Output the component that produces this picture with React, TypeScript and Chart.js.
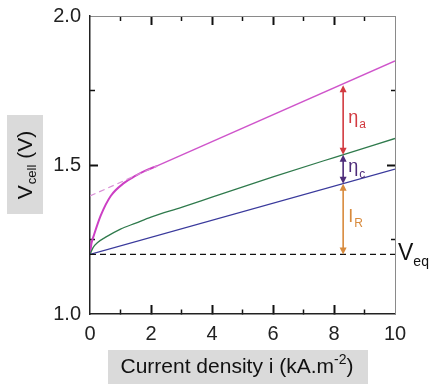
import { useEffect, useRef } from 'react';
import { Chart, registerables } from 'chart.js';

Chart.register(...registerables);

// ---- data ----
const xTickLabels = [0, 2, 4, 6, 8, 10];
const xMajorTicks = [2, 4, 6, 8];
const xMinorTicks = [1, 3, 5, 7, 9];
const yTickLabels = [1.0, 1.5, 2.0];
const yMajorTicks = [1.5];
const yMinorTicks = [1.25, 1.75];

const eqI = [0, 10];
const eqV = [1.2, 1.2];

const ohmicI = [0, 10];
const ohmicV = [1.2, 1.486];

const cathodeI = [0, 0.1, 0.25, 0.5, 1, 1.5, 2, 3, 4, 6, 8, 10];
const cathodeV = [1.2, 1.223, 1.24, 1.257, 1.285, 1.305, 1.325, 1.358, 1.392, 1.46, 1.525, 1.589];

const anodeCurveI = [0, 0.05, 0.13, 0.35, 0.68, 1.12, 1.5, 1.8, 2.2];
const anodeCurveV = [1.2, 1.238, 1.265, 1.33, 1.396, 1.44, 1.464, 1.48, 1.497];

const anodeLinI = [2.2, 10];
const anodeLinV = [1.497, 1.849];

const extrapI = [0, 2.2];
const extrapV = [1.396, 1.497];

const arrowI = 8.3;
const arrowFrom = [1.534, 1.437, 1.2];
const arrowTo = [1.768, 1.534, 1.437];
const arrowMain = ['η', 'η', 'I'];
const arrowSub = ['a', 'c', 'R'];

const eqLabelMain = 'V';
const eqLabelSub = 'eq';
const eqLabelV = 1.2;

const yTitleMain = 'V';
const yTitleSub = 'cell';
const yTitleRest = ' (V)';
const xTitleMain = 'Current density i (kA.m';
const xTitleSup = '-2';
const xTitleEnd = ')';

// ---- styles ----
const arrowColors = ['#d23a40', '#4e2c7a', '#d88a3c'];
const FONT = '"Liberation Sans", Arial, sans-serif';

const zip = (xs: number[], ys: number[]) => xs.map((x, i) => ({ x, y: ys[i] }));
const near = (a: number, b: number) => Math.abs(a - b) < 1e-6;
const tickVal = (c: any) => (c && c.tick ? Number(c.tick.value) : NaN);
const isIn = (arr: number[], v: number) => arr.some((t) => near(t, v));

// native inward tick marks (negative tick length); minor ticks shortened with a dash
function gridFor(kind: 'x' | 'y', startsAtBorder: boolean, major: number[], minor: number[], len: number, minorLen: number) {
  return {
    display: true,
    drawOnChartArea: false,
    drawTicks: true,
    tickLength: -len,
    tickColor: (c: any) => {
      const v = tickVal(c);
      return isIn(major, v) || isIn(minor, v) ? '#111111' : 'rgba(0,0,0,0)';
    },
    tickWidth: (c: any) => (isIn(major, tickVal(c)) ? 2 : 1.5),
    tickBorderDash: (c: any) => {
      if (!isIn(minor, tickVal(c))) return [];
      return startsAtBorder ? [minorLen, 100] : [minorLen, len - minorLen];
    },
    tickBorderDashOffset: (c: any) => {
      if (!isIn(minor, tickVal(c))) return 0;
      return startsAtBorder ? 0 : minorLen;
    },
  };
}

function drawArrowHead(ctx: CanvasRenderingContext2D, x: number, y: number, dir: number, color: string) {
  const len = 7;
  const hw = 3.5;
  ctx.beginPath();
  ctx.moveTo(x, y);
  ctx.lineTo(x - hw, y - dir * len);
  ctx.lineTo(x + hw, y - dir * len);
  ctx.closePath();
  ctx.fillStyle = color;
  ctx.fill();
}

const boxesPlugin = {
  id: 'titleBoxes',
  beforeDraw(chart: any) {
    const ctx: CanvasRenderingContext2D = chart.ctx;
    ctx.save();
    ctx.fillStyle = '#dadada';
    ctx.fillRect(7, 115, 36, 99);
    ctx.fillRect(108, 350, 260, 34);
    ctx.restore();
  },
};

const annotPlugin = {
  id: 'annotations',
  afterDraw(chart: any) {
    const ctx: CanvasRenderingContext2D = chart.ctx;
    const xs = chart.scales.x;
    const ys = chart.scales.y;
    ctx.save();

    // arrows
    const ax = xs.getPixelForValue(arrowI);
    arrowFrom.forEach((from, k) => {
      const color = arrowColors[k];
      const y1 = ys.getPixelForValue(from);
      const y2 = ys.getPixelForValue(arrowTo[k]);
      ctx.strokeStyle = color;
      ctx.lineWidth = 1.6;
      ctx.beginPath();
      ctx.moveTo(ax, y1 - 5);
      ctx.lineTo(ax, y2 + 5);
      ctx.stroke();
      drawArrowHead(ctx, ax, y1, 1, color);
      drawArrowHead(ctx, ax, y2, -1, color);
      const ym = (y1 + y2) / 2;
      ctx.fillStyle = color;
      ctx.textBaseline = 'middle';
      ctx.textAlign = 'left';
      ctx.font = `18px ${FONT}`;
      const mx = ax + 5;
      ctx.fillText(arrowMain[k], mx, ym - 2);
      const w = ctx.measureText(arrowMain[k]).width;
      ctx.font = `12px ${FONT}`;
      ctx.fillText(arrowSub[k], mx + w + 1, ym + 5);
    });

    // V_eq label
    const ey = ys.getPixelForValue(eqLabelV);
    ctx.fillStyle = '#111';
    ctx.textBaseline = 'middle';
    ctx.textAlign = 'left';
    ctx.font = `23px ${FONT}`;
    ctx.fillText(eqLabelMain, xs.right + 3, ey - 1);
    const vw = ctx.measureText(eqLabelMain).width;
    ctx.font = `14px ${FONT}`;
    ctx.fillText(eqLabelSub, xs.right + 3 + vw, ey + 8);

    // y title (rotated)
    ctx.save();
    ctx.translate(26, 165);
    ctx.rotate(-Math.PI / 2);
    ctx.fillStyle = '#111';
    ctx.textBaseline = 'middle';
    ctx.textAlign = 'left';
    ctx.font = `21px ${FONT}`;
    const w1 = ctx.measureText(yTitleMain).width;
    const w3 = ctx.measureText(yTitleRest).width;
    ctx.font = `13px ${FONT}`;
    const w2 = ctx.measureText(yTitleSub).width;
    const total = w1 + w2 + w3 + 1;
    let cx = -total / 2;
    ctx.font = `21px ${FONT}`;
    ctx.fillText(yTitleMain, cx, 0);
    cx += w1;
    ctx.font = `13px ${FONT}`;
    ctx.fillText(yTitleSub, cx + 1, 6);
    cx += w2 + 1;
    ctx.font = `21px ${FONT}`;
    ctx.fillText(yTitleRest, cx, 0);
    ctx.restore();

    // x title
    ctx.fillStyle = '#111';
    ctx.textBaseline = 'alphabetic';
    ctx.textAlign = 'left';
    ctx.font = `21px ${FONT}`;
    const m1 = ctx.measureText(xTitleMain).width;
    const m3 = ctx.measureText(xTitleEnd).width;
    ctx.font = `14px ${FONT}`;
    const m2 = ctx.measureText(xTitleSup).width;
    const tw = m1 + m2 + m3;
    let tx = 237 - tw / 2;
    const base = 373;
    ctx.font = `21px ${FONT}`;
    ctx.fillText(xTitleMain, tx, base);
    tx += m1;
    ctx.font = `14px ${FONT}`;
    ctx.fillText(xTitleSup, tx, base - 9);
    tx += m2;
    ctx.font = `21px ${FONT}`;
    ctx.fillText(xTitleEnd, tx, base);

    ctx.restore();
  },
};

export default function App() {
  const canvasRef = useRef<HTMLCanvasElement | null>(null);

  useEffect(() => {
    if (!canvasRef.current) return;
    const chart = new Chart(canvasRef.current, {
      type: 'line',
      data: {
        datasets: [
          { data: zip(eqI, eqV), borderColor: '#111', borderWidth: 1.2, borderDash: [6, 4], pointRadius: 0, fill: false },
          { data: zip(extrapI, extrapV), borderColor: '#d98fd6', borderWidth: 1.2, borderDash: [6, 4], pointRadius: 0, fill: false },
          { data: zip(ohmicI, ohmicV), borderColor: '#3a3a9c', borderWidth: 1.3, pointRadius: 0, fill: false },
          { data: zip(cathodeI, cathodeV), borderColor: '#2f7a4c', borderWidth: 1.3, pointRadius: 0, cubicInterpolationMode: 'monotone', fill: false },
          { data: zip(anodeCurveI, anodeCurveV), borderColor: '#cc3fc4', borderWidth: 2, pointRadius: 0, cubicInterpolationMode: 'monotone', fill: false },
          { data: zip(anodeLinI, anodeLinV), borderColor: '#cf55cb', borderWidth: 1.4, pointRadius: 0, fill: false },
        ],
      },
      options: {
        animation: false,
        responsive: false,
        devicePixelRatio: 1,
        layout: { padding: { top: 16, right: 35, left: 0, bottom: 0 } },
        plugins: {
          legend: { display: false },
          tooltip: { enabled: false },
        },
        scales: {
          x: {
            type: 'linear',
            position: 'bottom',
            min: 0,
            max: 10,
            grid: gridFor('x', true, xMajorTicks, xMinorTicks, 9, 5),
            border: { display: true, color: '#222', width: 1.5 },
            ticks: {
              stepSize: 1,
              autoSkip: false,
              padding: 17,
              color: '#222',
              font: { family: FONT, size: 20 },
              maxRotation: 0,
              callback: (v: any) => (isIn(xTickLabels, Number(v)) ? String(v) : ''),
            },
            afterFit: (s: any) => {
              s.height = 70;
              s.paddingLeft = 0;
              s.paddingRight = 0;
            },
          },
          x2: {
            type: 'linear',
            position: 'top',
            min: 0,
            max: 10,
            grid: gridFor('x', false, xMajorTicks, xMinorTicks, 9, 5),
            border: { display: true, color: '#8a8a8a', width: 1 },
            ticks: { stepSize: 1, autoSkip: false, display: false },
            afterFit: (s: any) => {
              s.height = 0;
              s.paddingLeft = 0;
              s.paddingRight = 0;
            },
          },
          y: {
            type: 'linear',
            position: 'left',
            min: 1,
            max: 2,
            grid: gridFor('y', false, yMajorTicks, yMinorTicks, 8, 5),
            border: { display: true, color: '#222', width: 1.5 },
            ticks: {
              stepSize: 0.25,
              autoSkip: false,
              padding: 17,
              color: '#222',
              font: { family: FONT, size: 20 },
              callback: (v: any) => (isIn(yTickLabels, Number(v)) ? Number(v).toFixed(1) : ''),
            },
            afterFit: (s: any) => {
              s.width = 90;
              s.paddingTop = 0;
              s.paddingBottom = 0;
            },
          },
          y2: {
            type: 'linear',
            position: 'right',
            min: 1,
            max: 2,
            grid: gridFor('y', true, yMajorTicks, yMinorTicks, 8, 5),
            border: { display: true, color: '#8a8a8a', width: 1 },
            ticks: { stepSize: 0.25, autoSkip: false, display: false },
            afterFit: (s: any) => {
              s.width = 0;
              s.paddingTop = 0;
              s.paddingBottom = 0;
            },
          },
        },
      },
      plugins: [boxesPlugin, annotPlugin],
    } as any);
    return () => chart.destroy();
  }, []);

  return (
    <div style={{ position: 'fixed', left: 0, top: 0, width: 430, height: 384 }}>
      <canvas ref={canvasRef} width={430} height={384} style={{ display: 'block' }} />
    </div>
  );
}
